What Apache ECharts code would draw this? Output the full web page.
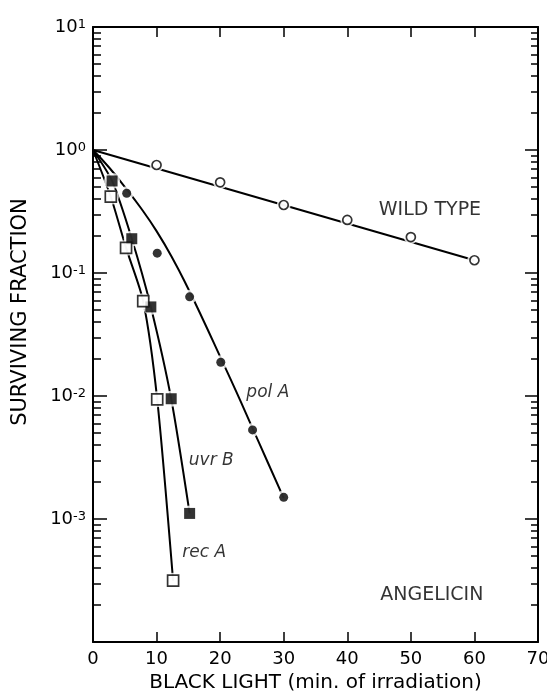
<!DOCTYPE html>
<html>
<head>
<meta charset="utf-8">
<script src="https://cdn.jsdelivr.net/npm/echarts@6/dist/echarts.min.js"></script>
<style>
  html, body { margin: 0; padding: 0; background: #fff; overflow: hidden; }
  #chart { width: 547px; height: 697px; }
</style>
</head>
<body>
<div id="chart"></div>
<script>
// Survival of E. coli strains after angelicin + black light exposure

// axis ticks
const xTicks = [0, 10, 20, 30, 40, 50, 60, 70];
const yDecades = [10, 1, 0.1, 0.01, 0.001];
const yMinor = [
  2e-4, 3e-4, 4e-4, 5e-4, 6e-4, 7e-4, 8e-4, 9e-4,
  2e-3, 3e-3, 4e-3, 5e-3, 6e-3, 7e-3, 8e-3, 9e-3,
  0.02, 0.03, 0.04, 0.05, 0.06, 0.07, 0.08, 0.09,
  0.2, 0.3, 0.4, 0.5, 0.6, 0.7, 0.8, 0.9,
  2, 3, 4, 5, 6, 7, 8, 9
];

// wild type (open circles) and its fitted line
const wildMin = [10, 20, 30, 40, 50, 60];
const wildFrac = [0.755, 0.546, 0.357, 0.27, 0.196, 0.127];
const wildFitMin = [0, 60];
const wildFitFrac = [1, 0.127];

// polA (filled circles) and its fitted curve
const polMin = [5.3, 10.1, 15.2, 20.1, 25.1, 30];
const polFrac = [0.445, 0.145, 0.064, 0.0188, 0.0053, 0.0015];
const polFitMin = [0, 2.5, 5, 7.5, 10, 12.5, 15, 17.5, 20, 22.5, 25, 27.5, 30];
const polFitFrac = [1, 0.724, 0.501, 0.339, 0.219, 0.132, 0.0741, 0.0398, 0.0209,
                    0.01096, 0.00562, 0.00288, 0.00148];

// uvrB (filled squares)
const uvrMin = [3.0, 6.1, 9.1, 12.3, 15.2];
const uvrFrac = [0.56, 0.19, 0.053, 0.0095, 0.00111];
const uvrFitMin = [0, 3.0, 6.1, 9.1, 12.3, 15.2];
const uvrFitFrac = [1, 0.56, 0.19, 0.053, 0.0095, 0.00111];

// recA (open squares)
const recMin = [2.8, 5.2, 7.9, 10.1, 12.6];
const recFrac = [0.417, 0.16, 0.059, 0.0094, 0.000315];
const recFitMin = [0, 2.8, 5.2, 7.9, 10.1, 12.6];
const recFitFrac = [1, 0.417, 0.16, 0.059, 0.0094, 0.000315];

// in-plot annotations
const noteText = ['WILD TYPE', 'ANGELICIN', 'pol A', 'uvr B', 'rec A'];
const noteMin = [53.0, 53.3, 27.5, 18.6, 17.5];
const noteFrac = [0.325, 2.41e-4, 0.0106, 0.003, 5.3e-4];
const noteItalic = [false, false, true, true, true];

const FONT = '"DejaVu Sans", "Liberation Sans", sans-serif';
const BLACK = '#000';

const pairs = (xs, ys) => xs.map((x, i) => [x, ys[i]]);

function fitLine(name, xs, ys, smooth) {
  return {
    name: name, type: 'line', data: pairs(xs, ys),
    showSymbol: false, smooth: smooth, z: 2,
    lineStyle: { color: BLACK, width: 2 },
    emphasis: { disabled: true }, silent: true
  };
}
function halo(xs, ys, size) {
  return {
    type: 'scatter', data: pairs(xs, ys), symbol: 'circle',
    symbolSize: size, z: 3, silent: true,
    itemStyle: { color: '#fff' }
  };
}
function marks(name, xs, ys, symbol, size, filled) {
  return {
    name: name, type: 'scatter', data: pairs(xs, ys),
    symbol: symbol, symbolSize: size, z: 4, silent: true,
    itemStyle: filled
      ? { color: BLACK }
      : { color: '#fff', borderColor: BLACK, borderWidth: 1.7 }
  };
}

const xCommon = {
  type: 'value', min: 0, max: 70, interval: 10,
  axisLine: { show: true, lineStyle: { color: BLACK, width: 2 } },
  axisTick: { show: true, inside: true, length: 10, lineStyle: { color: BLACK, width: 1.5 } },
  splitLine: { show: false }
};
const yCommon = {
  type: 'log', logBase: 10, min: 1e-4, max: 10,
  splitLine: { show: false }
};

const chart = echarts.init(document.getElementById('chart'), null, { renderer: 'canvas' });
chart.setOption({
  animation: false,
  backgroundColor: '#fff',
  grid: {
    left: 93, right: 9, top: 27, bottom: 55,
    containLabel: false, outerBoundsMode: 'none'
  },
  xAxis: [
    Object.assign({}, xCommon, {
      position: 'bottom',
      axisLabel: {
        color: BLACK, fontSize: 18, fontFamily: FONT, margin: 8,
        customValues: xTicks
      },
      name: 'BLACK LIGHT (min. of irradiation)',
      nameLocation: 'middle', nameGap: 29,
      nameTextStyle: { color: BLACK, fontSize: 20, fontFamily: FONT }
    }),
    Object.assign({}, xCommon, { position: 'top', axisLabel: { show: false } })
  ],
  yAxis: [
    Object.assign({}, yCommon, {
      position: 'left',
      axisLine: { show: true, lineStyle: { color: BLACK, width: 2 } },
      axisTick: { show: true, inside: true, length: 14, customValues: yDecades,
        lineStyle: { color: BLACK, width: 1.5 } },
      axisLabel: {
        customValues: yDecades, margin: 7,
        formatter: v => '{b|10}{s|' + Math.round(Math.log10(v)) + '}',
        rich: {
          b: { fontSize: 18, fontFamily: FONT, color: BLACK, verticalAlign: 'bottom',
               lineHeight: 18, padding: [8, 0, 0, 0] },
          s: { fontSize: 13, fontFamily: FONT, color: BLACK, verticalAlign: 'top',
               lineHeight: 13 }
        }
      }
    }),
    Object.assign({}, yCommon, {
      position: 'left',
      axisLine: { show: false },
      axisTick: { show: true, inside: true, length: 8, customValues: yMinor,
        lineStyle: { color: BLACK, width: 1.5 } },
      axisLabel: { show: false }
    }),
    Object.assign({}, yCommon, {
      position: 'right',
      axisLine: { show: true, lineStyle: { color: BLACK, width: 2 } },
      axisTick: { show: true, inside: true, length: 13, customValues: yDecades,
        lineStyle: { color: BLACK, width: 1.5 } },
      axisLabel: { show: false }
    }),
    Object.assign({}, yCommon, {
      position: 'right',
      axisLine: { show: false },
      axisTick: { show: true, inside: true, length: 7, customValues: yMinor,
        lineStyle: { color: BLACK, width: 1.5 } },
      axisLabel: { show: false }
    })
  ],
  series: [
    fitLine('WILD TYPE', wildFitMin, wildFitFrac, false),
    fitLine('pol A', polFitMin, polFitFrac, 0.5),
    fitLine('uvr B', uvrFitMin, uvrFitFrac, 0.25),
    fitLine('rec A', recFitMin, recFitFrac, 0.25),
    halo(wildMin, wildFrac, 14),
    halo(polMin, polFrac, 14),
    halo(uvrMin, uvrFrac, 16),
    halo(recMin, recFrac, 16),
    marks('WILD TYPE', wildMin, wildFrac, 'circle', 9, false),
    marks('pol A', polMin, polFrac, 'circle', 9, true),
    marks('uvr B', uvrMin, uvrFrac, 'rect', 11, true),
    marks('rec A', recMin, recFrac, 'rect', 11, false),
    {
      type: 'scatter', symbolSize: 0, z: 5, silent: true,
      data: noteText.map((t, i) => ({
        name: t, value: [noteMin[i], noteFrac[i]],
        label: { fontStyle: noteItalic[i] ? 'italic' : 'normal',
                 fontSize: noteItalic[i] ? 17 : 19 }
      })),
      label: {
        show: true, position: 'inside', formatter: p => p.name,
        color: BLACK, fontFamily: FONT
      }
    }
  ],
  graphic: [
    {
      type: 'text', x: 21, y: 312, rotation: Math.PI / 2, silent: true,
      style: {
        text: 'SURVIVING FRACTION', fill: BLACK,
        font: '21px ' + FONT, align: 'center', verticalAlign: 'middle'
      }
    }
  ]
});
</script>
</body>
</html>
